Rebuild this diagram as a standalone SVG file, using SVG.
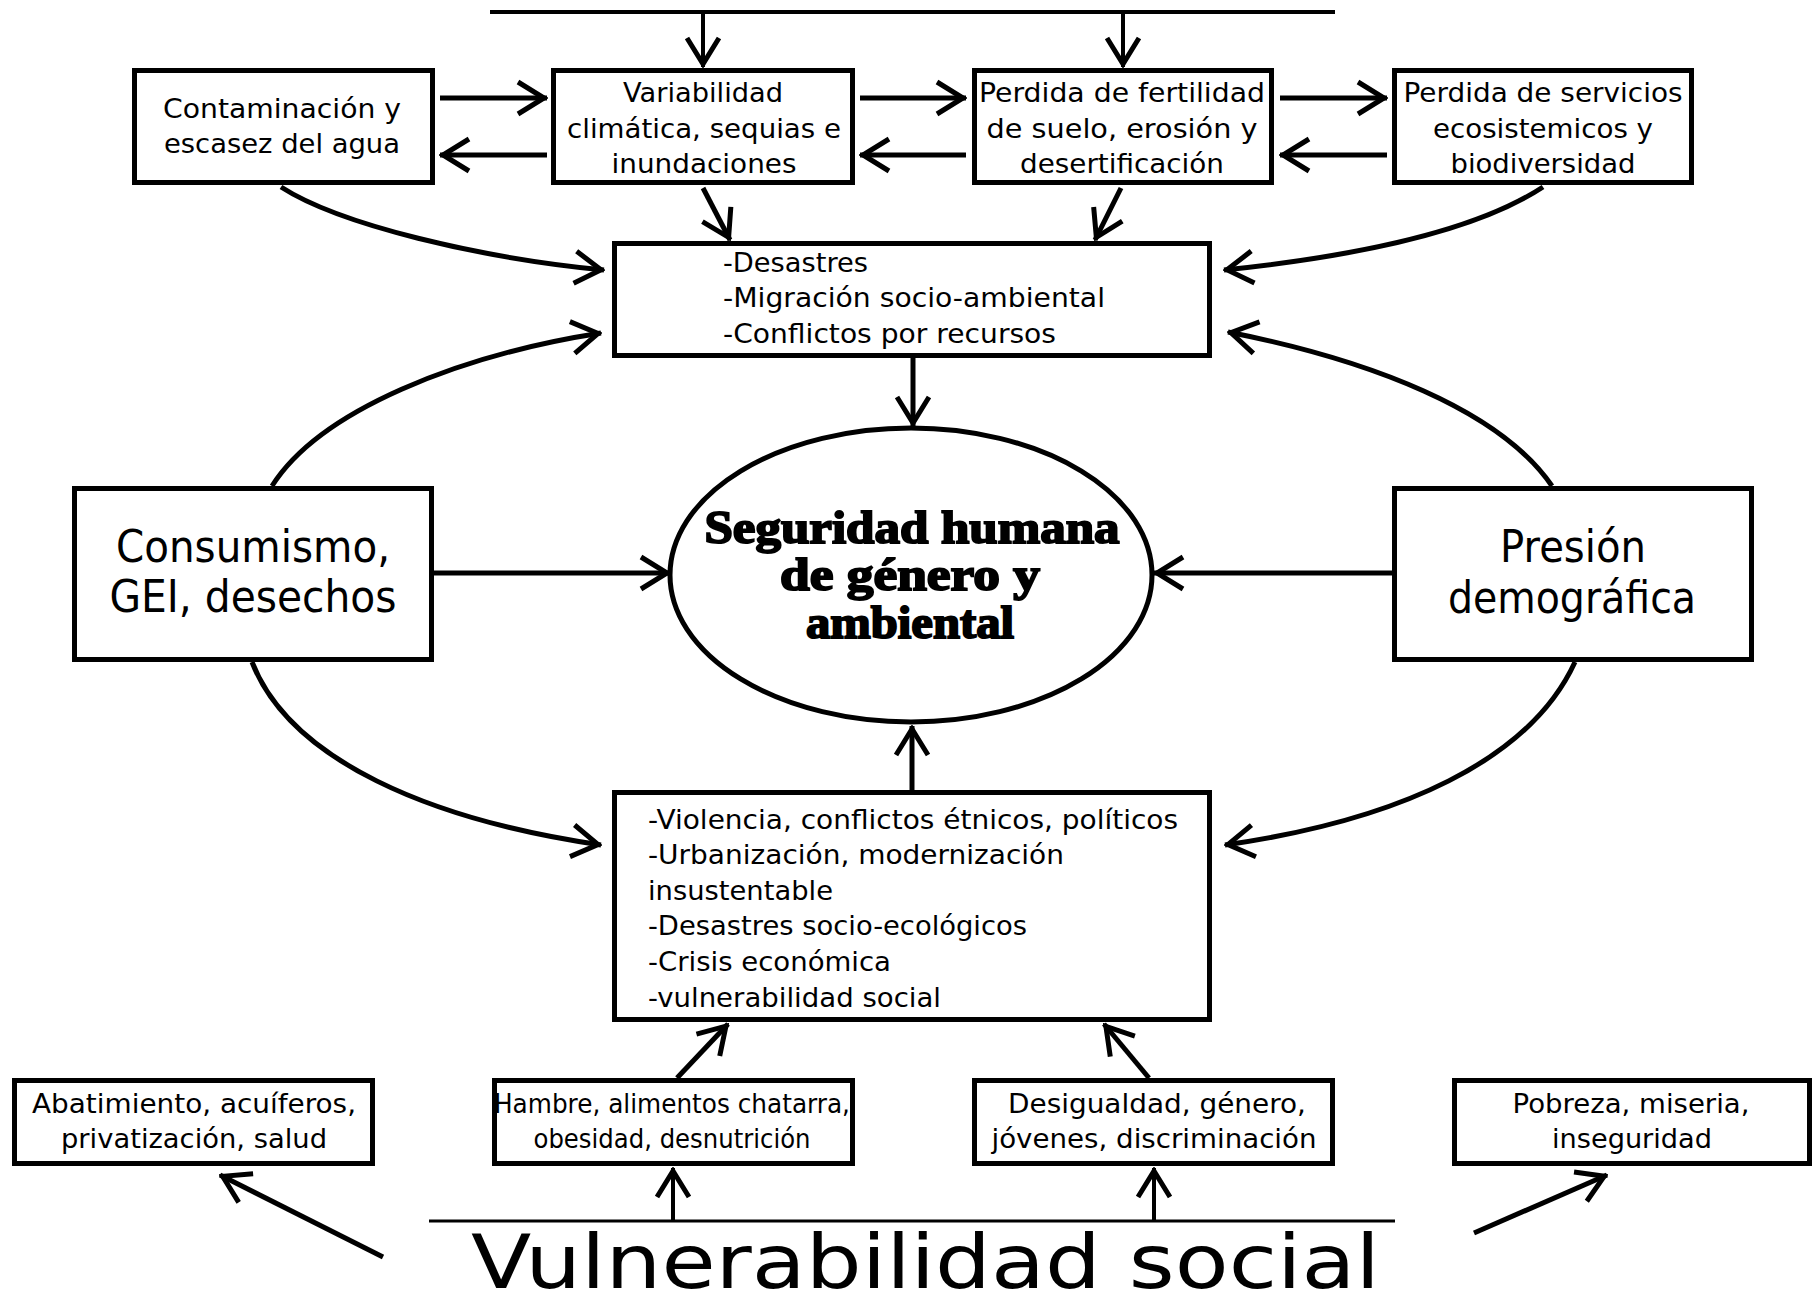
<svg xmlns="http://www.w3.org/2000/svg" width="1814" height="1307" viewBox="0 0 1814 1307">
<style>
.box{fill:#fff;stroke:#000;stroke-width:5}
.t{font-family:"DejaVu Sans","Liberation Sans",sans-serif;font-size:27px;fill:#000;text-anchor:middle}
.tl{font-family:"DejaVu Sans","Liberation Sans",sans-serif;font-size:27px;fill:#000}
.big{font-family:"DejaVu Sans","Liberation Sans",sans-serif;font-size:45px;fill:#000;text-anchor:middle}
.sm{font-family:"DejaVu Sans","Liberation Sans",sans-serif;font-size:26px;fill:#000;text-anchor:middle}
.hd{font-family:"Liberation Serif","DejaVu Serif",serif;font-weight:bold;font-size:47px;fill:#000;stroke:#000;stroke-width:2;text-anchor:middle}
.c{fill:none;stroke:#000;stroke-width:5}
.c4{fill:none;stroke:#000;stroke-width:4}
</style>
<defs>
<marker id="ah" viewBox="-30 -20 34 40" refX="3" refY="0" markerWidth="34" markerHeight="40" orient="auto" markerUnits="userSpaceOnUse">
<path d="M-26,-16 L0,0 L-26,16" fill="none" stroke="#000" stroke-width="5"/>
</marker>
</defs>
<rect width="1814" height="1307" fill="#fff"/>

<g id="connectors">
<path class="c4" d="M490,12 H1335"/>
<path class="c4" d="M703,12 V67" marker-end="url(#ah)"/>
<path class="c4" d="M1123,12 V67" marker-end="url(#ah)"/>
<path class="c" d="M440,98 H547" marker-end="url(#ah)"/>
<path class="c" d="M547,155 H440" marker-end="url(#ah)"/>
<path class="c" d="M860,98 H966" marker-end="url(#ah)"/>
<path class="c" d="M966,155 H860" marker-end="url(#ah)"/>
<path class="c" d="M1280,98 H1387" marker-end="url(#ah)"/>
<path class="c" d="M1387,155 H1280" marker-end="url(#ah)"/>
<path class="c" d="M703,188 L730,240" marker-end="url(#ah)"/>
<path class="c" d="M1121,188 L1095,240" marker-end="url(#ah)"/>
<path class="c" d="M281,187 C340,225 480,258 604,270" marker-end="url(#ah)"/>
<path class="c" d="M1543,187 C1470,235 1340,258 1224,270" marker-end="url(#ah)"/>
<path class="c" d="M272,486 C320,410 460,355 601,333" marker-end="url(#ah)"/>
<path class="c" d="M1552,486 C1500,410 1370,360 1228,332" marker-end="url(#ah)"/>
<path class="c" d="M252,662 C290,760 430,820 601,845" marker-end="url(#ah)"/>
<path class="c" d="M1575,662 C1530,760 1400,820 1225,845" marker-end="url(#ah)"/>
<path class="c" d="M913,358 V426" marker-end="url(#ah)"/>
<path class="c" d="M434,573 H670" marker-end="url(#ah)"/>
<path class="c" d="M1392,573 H1154" marker-end="url(#ah)"/>
<path class="c" d="M912,790 V726" marker-end="url(#ah)"/>
<path class="c" d="M677,1078 L728,1024" marker-end="url(#ah)"/>
<path class="c" d="M1149,1078 L1104,1024" marker-end="url(#ah)"/>
<path fill="none" stroke="#000" stroke-width="3" d="M429,1221 H1395"/>
<path class="c4" d="M673,1221 V1168" marker-end="url(#ah)"/>
<path class="c4" d="M1154,1221 V1168" marker-end="url(#ah)"/>
<path class="c" d="M383,1257 L220,1175" marker-end="url(#ah)"/>
<path class="c" d="M1474,1233 L1607,1175" marker-end="url(#ah)"/>
</g>

<g id="contaminacion">
<rect class="box" x="134.5" y="70.5" width="298" height="112"/>
<text class="t" x="282" y="118" textLength="238" lengthAdjust="spacingAndGlyphs">Contaminación y</text>
<text class="t" x="282" y="153" textLength="236" lengthAdjust="spacingAndGlyphs">escasez del agua</text>
</g>
<g id="variabilidad">
<rect class="box" x="553.5" y="70.5" width="299" height="112"/>
<text class="t" x="703" y="102" textLength="160" lengthAdjust="spacingAndGlyphs">Variabilidad</text>
<text class="t" x="704" y="138" textLength="274" lengthAdjust="spacingAndGlyphs">climática, sequias e</text>
<text class="t" x="704" y="173" textLength="185" lengthAdjust="spacingAndGlyphs">inundaciones</text>
</g>
<g id="fertilidad">
<rect class="box" x="974.5" y="70.5" width="297" height="112"/>
<text class="t" x="1122" y="102" textLength="286" lengthAdjust="spacingAndGlyphs">Perdida de fertilidad</text>
<text class="t" x="1122" y="138" textLength="271" lengthAdjust="spacingAndGlyphs">de suelo, erosión y</text>
<text class="t" x="1122" y="173" textLength="204" lengthAdjust="spacingAndGlyphs">desertificación</text>
</g>
<g id="servicios">
<rect class="box" x="1394.5" y="70.5" width="297" height="112"/>
<text class="t" x="1543" y="102" textLength="279" lengthAdjust="spacingAndGlyphs">Perdida de servicios</text>
<text class="t" x="1543" y="138" textLength="220" lengthAdjust="spacingAndGlyphs">ecosistemicos y</text>
<text class="t" x="1543" y="173" textLength="185" lengthAdjust="spacingAndGlyphs">biodiversidad</text>
</g>
<g id="desastres">
<rect class="box" x="614.5" y="243.5" width="595" height="112"/>
<text class="tl" x="723" y="272" textLength="145" lengthAdjust="spacingAndGlyphs">-Desastres</text>
<text class="tl" x="723" y="307" textLength="382" lengthAdjust="spacingAndGlyphs">-Migración socio-ambiental</text>
<text class="tl" x="723" y="343" textLength="333" lengthAdjust="spacingAndGlyphs">-Conflictos por recursos</text>
</g>
<g id="consumismo">
<rect class="box" x="74.5" y="488.5" width="357" height="171"/>
<text class="big" x="253" y="562" textLength="274" lengthAdjust="spacingAndGlyphs">Consumismo,</text>
<text class="big" x="253" y="612" textLength="287" lengthAdjust="spacingAndGlyphs">GEI, desechos</text>
</g>
<g id="seguridad">
<ellipse cx="911" cy="575" rx="241" ry="147" fill="#fff" stroke="#000" stroke-width="5"/>
<text class="hd" x="912" y="543" textLength="415" lengthAdjust="spacingAndGlyphs">Seguridad humana</text>
<text class="hd" x="910" y="590" textLength="260" lengthAdjust="spacingAndGlyphs">de género y</text>
<text class="hd" x="910" y="638" textLength="208" lengthAdjust="spacingAndGlyphs">ambiental</text>
</g>
<g id="presion">
<rect class="box" x="1394.5" y="488.5" width="357" height="171"/>
<text class="big" x="1573" y="562" textLength="146" lengthAdjust="spacingAndGlyphs">Presión</text>
<text class="big" x="1572" y="613" textLength="248" lengthAdjust="spacingAndGlyphs">demográfica</text>
</g>
<g id="violencia">
<rect class="box" x="614.5" y="792.5" width="595" height="227"/>
<text class="tl" x="648" y="829" textLength="530" lengthAdjust="spacingAndGlyphs">-Violencia, conflictos étnicos, políticos</text>
<text class="tl" x="648" y="864" textLength="416" lengthAdjust="spacingAndGlyphs">-Urbanización, modernización</text>
<text class="tl" x="648" y="900" textLength="185" lengthAdjust="spacingAndGlyphs">insustentable</text>
<text class="tl" x="648" y="935" textLength="379" lengthAdjust="spacingAndGlyphs">-Desastres socio-ecológicos</text>
<text class="tl" x="648" y="971" textLength="243" lengthAdjust="spacingAndGlyphs">-Crisis económica</text>
<text class="tl" x="648" y="1007" textLength="293" lengthAdjust="spacingAndGlyphs">-vulnerabilidad social</text>
</g>
<g id="abatimiento">
<rect class="box" x="14.5" y="1080.5" width="358" height="83"/>
<text class="sm" x="194" y="1113" textLength="324" lengthAdjust="spacingAndGlyphs">Abatimiento, acuíferos,</text>
<text class="sm" x="194" y="1148" textLength="266" lengthAdjust="spacingAndGlyphs">privatización, salud</text>
</g>
<g id="hambre">
<rect class="box" x="494.5" y="1080.5" width="358" height="83"/>
<text class="sm" x="672" y="1113" textLength="356" lengthAdjust="spacingAndGlyphs">Hambre, alimentos chatarra,</text>
<text class="sm" x="672" y="1148" textLength="277" lengthAdjust="spacingAndGlyphs">obesidad, desnutrición</text>
</g>
<g id="desigualdad">
<rect class="box" x="974.5" y="1080.5" width="358" height="83"/>
<text class="sm" x="1157" y="1113" textLength="298" lengthAdjust="spacingAndGlyphs">Desigualdad, género,</text>
<text class="sm" x="1154" y="1148" textLength="325" lengthAdjust="spacingAndGlyphs">jóvenes, discriminación</text>
</g>
<g id="pobreza">
<rect class="box" x="1454.5" y="1080.5" width="355" height="83"/>
<text class="sm" x="1631" y="1113" textLength="237" lengthAdjust="spacingAndGlyphs">Pobreza, miseria,</text>
<text class="sm" x="1632" y="1148" textLength="160" lengthAdjust="spacingAndGlyphs">inseguridad</text>
</g>
<g id="vulnerabilidad">
<text x="471" y="1288" font-family="DejaVu Sans, Liberation Sans, sans-serif" font-size="75" fill="#000" textLength="909" lengthAdjust="spacingAndGlyphs">Vulnerabilidad social</text>
</g>
</svg>
